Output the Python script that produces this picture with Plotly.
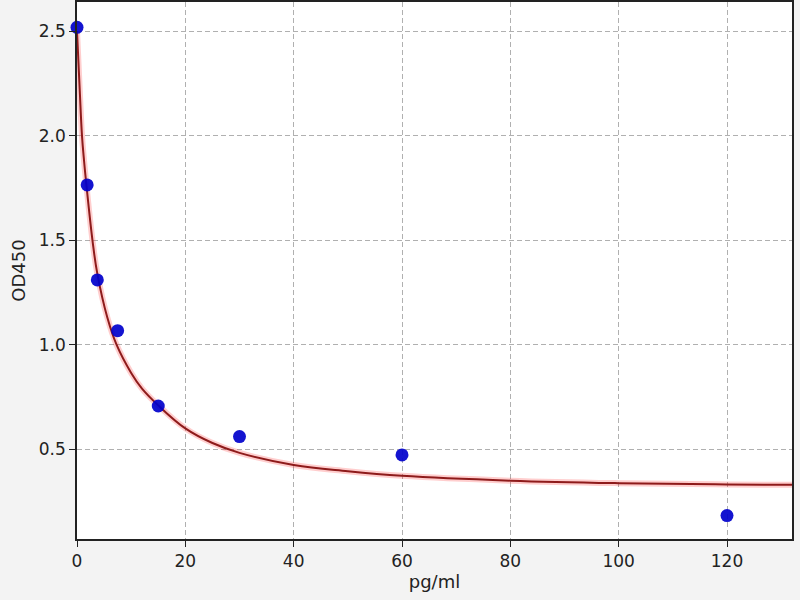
import plotly.graph_objects as go

# Standard points
conc = [0, 1.875, 3.75, 7.5, 15, 30, 60, 120]
od = [2.518, 1.764, 1.310, 1.067, 0.707, 0.561, 0.473, 0.183]

# Fitted curve
curve_x = [0, 0.5, 0.92, 1.3, 1.79, 2.9, 3.75, 5.6, 7.3, 10, 12, 15, 20, 25, 30, 40, 50, 60, 80, 100, 120, 132]
curve_y = [2.50, 2.22, 2.00, 1.88, 1.75, 1.49, 1.34, 1.13, 1.00, 0.865, 0.79, 0.71, 0.60, 0.53, 0.483, 0.425, 0.395, 0.373, 0.350, 0.338, 0.332, 0.330]

x_ticks = [0, 20, 40, 60, 80, 100, 120]
y_ticks = [0.5, 1.0, 1.5, 2.0, 2.5]

fig = go.Figure()
fig.add_trace(go.Scatter(x=curve_x, y=curve_y, mode="lines",
                         line=dict(color="rgba(255,60,60,0.25)", width=6, shape="spline", smoothing=1.1),
                         hoverinfo="skip", showlegend=False))
fig.add_trace(go.Scatter(x=curve_x, y=curve_y, mode="lines",
                         line=dict(color="#8e1b1b", width=2, shape="spline", smoothing=1.1),
                         showlegend=False))
fig.add_trace(go.Scatter(x=conc, y=od, mode="markers",
                         marker=dict(color="#0000cc", size=13, opacity=0.92,
                                     line=dict(width=0)),
                         showlegend=False, cliponaxis=False))

axis_common = dict(showline=True, linecolor="#222", linewidth=1.5, mirror=True,
                   ticks="outside", ticklen=6, tickwidth=1.4, tickcolor="#222",
                   showgrid=True, gridcolor="#b0b0b0", griddash="5px,3px", gridwidth=1,
                   zeroline=False, automargin=False,
                   tickfont=dict(family="DejaVu Sans", size=17, color="#222"))

fig.update_layout(
    width=800, height=600,
    margin=dict(l=77, r=8, t=2, b=61),
    paper_bgcolor="#f3f3f3", plot_bgcolor="white",
    font=dict(family="DejaVu Sans", size=17, color="#222"),
    xaxis=dict(range=[0, 132], tickvals=x_ticks, ticktext=[str(v) for v in x_ticks],
               title=dict(text="pg/ml", standoff=3, font=dict(size=18)), **axis_common),
    yaxis=dict(range=[0.071, 2.639], tickvals=y_ticks, ticktext=[f"{v:.1f}" for v in y_ticks],
               title=dict(text="OD450", standoff=9, font=dict(size=18)), **axis_common),
)

fig.write_html("out.html", config={"displayModeBar": False},
               post_script="document.body.style.margin='0';")
